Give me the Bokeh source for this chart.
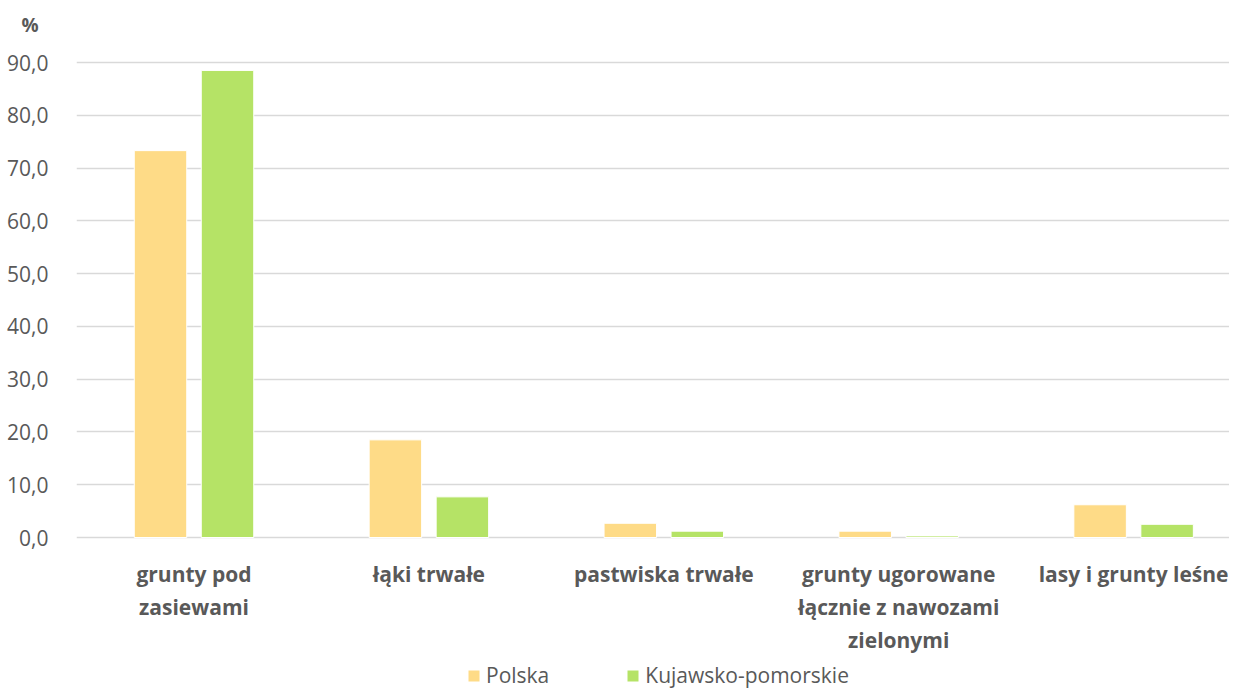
from bokeh.plotting import figure
from bokeh.models import ColumnDataSource, FixedTicker, Legend, LegendItem, Range1d, Title
from bokeh.core.properties import value
from bokeh.transform import dodge
from bokeh.embed import file_html
from bokeh.resources import INLINE

categories = ["grunty pod\nzasiewami", "łąki trwałe", "pastwiska trwałe",
              "grunty ugorowane\nłącznie z nawozami\nzielonymi", "lasy i grunty leśne"]
polska = [73.3, 18.5, 2.7, 1.2, 6.2]
kujawsko = [88.5, 7.7, 1.2, 0.3, 2.5]
series_names = ["Polska", "Kujawsko-pomorskie"]
y_ticks = [0, 10, 20, 30, 40, 50, 60, 70, 80, 90]
unit_label = "%"

col_pl = "#FEDB87"
col_kp = "#B5E366"
grey = "#595959"
font = "Open Sans"

idx = list(range(len(categories)))
src = ColumnDataSource(dict(x=idx, pl=polska, kp=kujawsko))

W, H = 1229, 689
left_b = 76
top_b = 40
frame_w = W - left_b
cat_px = 234.9
y90_px, y0_px = 62.0, 537.0
px_per_unit = (y0_px - y90_px) / 90.0
x0 = -(193.5 - left_b) / cat_px

p = figure(width=W, height=H, output_backend="svg", toolbar_location=None,
           x_axis_location=None, y_axis_location="left",
           x_range=Range1d(x0, x0 + frame_w / cat_px),
           y_range=Range1d(-(H - y0_px) / px_per_unit, 90 + (y90_px - top_b) / px_per_unit),
           min_border_left=left_b, min_border_right=0, min_border_top=top_b, min_border_bottom=0)
p.outline_line_color = None
p.background_fill_color = "white"
p.border_fill_color = "white"

# unit label as a left-aligned title in the top border
p.title = Title(text=unit_label, align="left", offset=21 - left_b, standoff=5,
                text_font=font, text_font_style="bold", text_font_size="19px",
                text_color=grey)

bw = 52.5 / cat_px
off = 33.5 / cat_px
r1 = p.vbar(x=dodge("x", -off, range=p.x_range), top="pl", width=bw, source=src,
            fill_color=col_pl, line_color="white", line_width=1)
r2 = p.vbar(x=dodge("x", off, range=p.x_range), top="kp", width=bw, source=src,
            fill_color=col_kp, line_color="white", line_width=1)

# axes / grid
p.yaxis.ticker = FixedTicker(ticks=y_ticks)
p.yaxis.major_label_overrides = {t: f"{t:.1f}".replace(".", ",") for t in y_ticks}
p.yaxis.axis_line_color = None
p.yaxis.major_tick_line_color = None
p.yaxis.minor_tick_line_color = None
p.yaxis.major_label_text_font = font
p.yaxis.major_label_text_font_size = "21px"
p.yaxis.major_label_text_color = grey
p.yaxis.major_label_standoff = 22
p.ygrid.ticker = FixedTicker(ticks=y_ticks)
p.ygrid.grid_line_color = "#D9D9D9"
p.ygrid.grid_line_width = 1.5
p.xgrid.grid_line_color = None

# category labels (split into lines)
lx, ly, lt, loff = [], [], [], []
for i, c in enumerate(categories):
    for j, line in enumerate(c.split("\n")):
        lx.append(i)
        ly.append(0)
        lt.append(line)
        loff.append(36 + 33 * j)
lsrc = ColumnDataSource(dict(x=lx, y=ly, t=lt, off=loff))
p.text(x="x", y="y", text="t", y_offset="off", source=lsrc, text_align="center",
       text_baseline="middle", text_font=value(font), text_font_style="bold",
       text_font_size="21px", text_color=grey)

legend = Legend(items=[LegendItem(label=series_names[0], renderers=[r1]),
                       LegendItem(label=series_names[1], renderers=[r2])],
                orientation="horizontal", location=(468 - left_b - 2, 0),
                label_text_font=font, label_text_font_size="21px", label_text_color=grey,
                glyph_width=15, glyph_height=15, label_standoff=5, spacing=76,
                padding=2, margin=0, border_line_color=None, background_fill_alpha=0)
p.add_layout(legend, "center")

open("out.html", "w").write(file_html(p, INLINE))
